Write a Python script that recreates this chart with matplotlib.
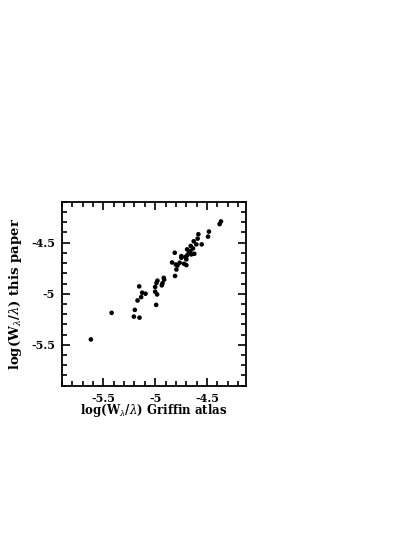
import matplotlib.pyplot as plt
from matplotlib import rcParams
from matplotlib.ticker import MultipleLocator

rcParams["font.family"] = "serif"
rcParams["font.serif"] = ["DejaVu Serif"]
rcParams["mathtext.fontset"] = "dejavuserif"

# log(W/lambda) from the Griffin atlas vs. this paper
x_griffin = [-5.62, -5.42, -5.205, -5.196, -5.151, -5.17, -5.154, -5.135, -5.125, -5.093,
             -4.99, -5.0, -4.981, -5.0, -4.987, -4.978, -4.936, -4.929, -4.913, -4.917,
             -4.808, -4.795, -4.785, -4.801, -4.837, -4.811, -4.763, -4.747, -4.747, -4.721,
             -4.708, -4.692, -4.699, -4.699, -4.676, -4.692, -4.66, -4.651, -4.657, -4.635,
             -4.622, -4.628, -4.59, -4.583, -4.603, -4.551, -4.49, -4.481, -4.378, -4.365]
y_paper = [-5.447, -5.187, -5.224, -5.158, -5.234, -5.066, -4.928, -5.033, -4.99, -5.0,
           -5.109, -4.98, -5.007, -4.934, -4.895, -4.872, -4.918, -4.898, -4.862, -4.845,
           -4.826, -4.763, -4.724, -4.714, -4.694, -4.599, -4.697, -4.648, -4.632, -4.707,
           -4.641, -4.625, -4.72, -4.664, -4.602, -4.566, -4.582, -4.615, -4.533, -4.556,
           -4.609, -4.487, -4.461, -4.418, -4.517, -4.517, -4.441, -4.392, -4.319, -4.293]

fig = plt.figure(figsize=(3.94, 5.5), dpi=100)
ax = fig.add_axes([0.157, 0.2987, 0.4683, 0.3345])

ax.scatter(x_griffin, y_paper, s=11, c="black", edgecolors="none")

ax.set_xlim(-5.9, -4.12)
ax.set_ylim(-5.9, -4.1)
ax.set_xticks([-5.5, -5, -4.5])
ax.set_xticklabels(["-5.5", "-5", "-4.5"])
ax.set_yticks([-5.5, -5, -4.5])
ax.set_yticklabels(["-5.5", "-5", "-4.5"])
ax.xaxis.set_minor_locator(MultipleLocator(0.1))
ax.yaxis.set_minor_locator(MultipleLocator(0.1))
ax.tick_params(which="both", direction="in", top=True, right=True,
               labelsize=8, width=1.2)
ax.tick_params(which="major", length=6, pad=5)
ax.tick_params(which="minor", length=3.5)
for s in ax.spines.values():
    s.set_linewidth(1.3)
for lab in ax.get_xticklabels() + ax.get_yticklabels():
    lab.set_fontweight("bold")

ax.set_xlabel(r"log(W$_\lambda$/$\lambda$) Griffin atlas", fontsize=8.5,
              fontweight="bold", labelpad=-1)
ax.set_ylabel(r"log(W$_\lambda$/$\lambda$) this paper", fontsize=9.5,
              fontweight="bold", labelpad=5)

fig.savefig("out.png", dpi=100)
